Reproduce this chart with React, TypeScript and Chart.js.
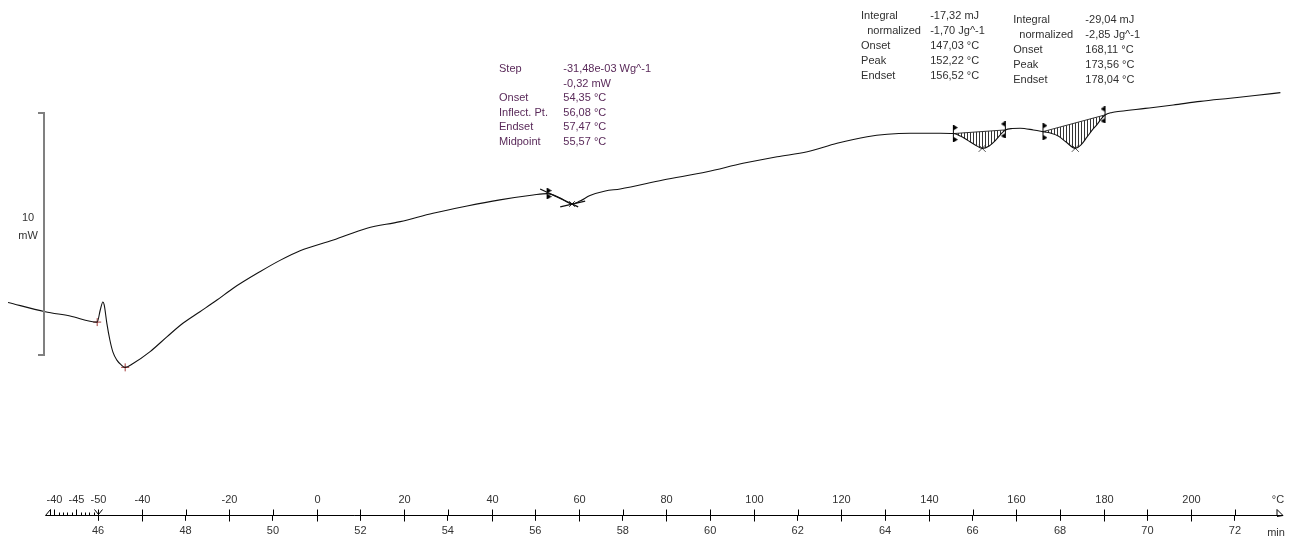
import React, { useEffect, useRef } from 'react';
import { Chart, registerables } from 'chart.js';

Chart.register(...registerables);

// ---- DSC curve (time in min, heat flow in mW) ----
const timeMin = [43.94, 44.79, 45.36, 45.98, 46.05, 46.11, 46.14, 46.20, 46.27, 46.34, 46.43, 46.53, 46.62, 46.80, 47.19, 47.58, 47.94, 48.33, 48.72, 49.09, 49.71, 50.16, 50.62, 51.38, 52.15, 52.91, 53.66, 54.44, 55.19, 55.95, 56.27, 56.57, 56.84, 57.02, 57.25, 57.60, 57.94, 58.92, 59.93, 60.75, 61.53, 62.22, 62.90, 63.59, 64.05, 64.57, 65.26, 65.56, 65.72, 65.88, 66.06, 66.22, 66.38, 66.52, 66.63, 66.75, 66.91, 67.09, 67.39, 67.61, 67.78, 67.96, 68.14, 68.35, 68.48, 68.62, 68.74, 68.85, 68.94, 69.03, 69.19, 69.38, 69.95, 70.59, 71.21, 71.89, 72.46, 73.04];
const heatFlowMW = [2.17, 1.79, 1.61, 1.36, 1.86, 2.19, 2.07, 1.32, 0.62, 0.12, -0.21, -0.41, -0.51, -0.35, 0.14, 0.76, 1.31, 1.79, 2.27, 2.76, 3.45, 3.91, 4.31, 4.75, 5.24, 5.51, 5.86, 6.16, 6.41, 6.61, 6.67, 6.49, 6.24, 6.36, 6.59, 6.78, 6.86, 7.23, 7.57, 7.92, 8.19, 8.40, 8.75, 9.02, 9.12, 9.16, 9.16, 9.15, 9.05, 8.88, 8.68, 8.54, 8.64, 8.86, 9.09, 9.30, 9.36, 9.37, 9.30, 9.23, 9.17, 9.05, 8.80, 8.54, 8.68, 9.01, 9.30, 9.53, 9.75, 9.92, 10.02, 10.07, 10.19, 10.33, 10.48, 10.61, 10.72, 10.84];

// integration limits (min) and baseline values (mW)
const peakStartTimes = [65.56, 67.61];
const peakStartValues = [9.15, 9.23];
const peakEndTimes = [66.75, 69.03];
const peakEndValues = [9.30, 9.92];
const peakTopTimes = [66.22, 68.35];
const peakTopValues = [8.54, 8.54];

// step evaluation
const stepOnsetTime = [56.27];
const stepOnsetValue = [6.67];
const stepTangentTimes = [56.11, 56.98];
const stepTangentValues = [6.86, 6.12];
const stepBaseTimes = [56.57, 57.14];
const stepBaseValues = [6.12, 6.36];
const stepCrossTime = [56.84];
const stepCrossValue = [6.24];

// red limit marks
const limitTimes = [45.98, 46.62];
const limitValues = [1.36, -0.51];

// axes
const timeTicks = [46, 48, 50, 52, 54, 56, 58, 60, 62, 64, 66, 68, 70, 72];
const tempTickTimes = [45, 45.5, 46, 47, 49, 51, 53, 55, 57, 59, 61, 63, 65, 67, 69, 71];
const tempTickLabels = ['-40', '-45', '-50', '-40', '-20', '0', '20', '40', '60', '80', '100', '120', '140', '160', '180', '200'];
const scaleBarMW = [0, 10];

// result boxes
const stepLabels = ['Step', '', 'Onset', 'Inflect. Pt.', 'Endset', 'Midpoint'];
const stepValues = ['-31,48e-03 Wg^-1', '-0,32 mW', '54,35 °C', '56,08 °C', '57,47 °C', '55,57 °C'];
const peak1Labels = ['Integral', '  normalized', 'Onset', 'Peak', 'Endset'];
const peak1Values = ['-17,32 mJ', '-1,70 Jg^-1', '147,03 °C', '152,22 °C', '156,52 °C'];
const peak2Labels = ['Integral', '  normalized', 'Onset', 'Peak', 'Endset'];
const peak2Values = ['-29,04 mJ', '-2,85 Jg^-1', '168,11 °C', '173,56 °C', '178,04 °C'];

const FONT = '11px "Liberation Sans", Arial, sans-serif';

const pts = (xs: number[], ys: number[]) => xs.map((x, i) => ({ x, y: ys[i] }));
const curvePts = pts(timeMin, heatFlowMW);
const segment = (a: number, b: number) => curvePts.filter((p) => p.x >= a - 1e-9 && p.x <= b + 1e-9);

function makeBracket(dir: number, h: number) {
  const c = document.createElement('canvas');
  c.width = 9;
  c.height = h;
  const g = c.getContext('2d')!;
  g.fillStyle = '#000';
  g.fillRect(4, 0, 1, h);
  const tri = (y0: number) => {
    g.beginPath();
    if (dir > 0) {
      g.moveTo(5, y0);
      g.lineTo(9, y0 + 2.5);
      g.lineTo(5, y0 + 5);
    } else {
      g.moveTo(4, y0);
      g.lineTo(0, y0 + 2.5);
      g.lineTo(4, y0 + 5);
    }
    g.closePath();
    g.fill();
  };
  tri(0);
  tri(h - 5);
  return c;
}

const overlay = {
  id: 'dscOverlay',
  afterDraw(chart: any) {
    const { ctx, chartArea } = chart;
    const xs = chart.scales.x;
    const ys = chart.scales.y;
    const axisY = Math.round(chartArea.bottom) + 0.5;
    ctx.save();
    ctx.strokeStyle = '#000';
    ctx.lineWidth = 1;
    // axis line
    const xStart = Math.round(xs.getPixelForValue(44.79)) + 0.5;
    const xEnd = chartArea.right;
    ctx.beginPath();
    ctx.moveTo(xStart, axisY);
    ctx.lineTo(xEnd, axisY);
    ctx.stroke();
    // left end mark
    ctx.beginPath();
    ctx.moveTo(xStart + 5, axisY - 6);
    ctx.lineTo(xStart, axisY);
    ctx.moveTo(xStart + 5, axisY - 6);
    ctx.lineTo(xStart + 5, axisY);
    ctx.stroke();
    // right arrow
    ctx.beginPath();
    ctx.moveTo(xEnd - 6, axisY - 6);
    ctx.lineTo(xEnd, axisY);
    ctx.lineTo(xEnd - 6, axisY + 1);
    ctx.moveTo(xEnd - 6, axisY - 6);
    ctx.lineTo(xEnd - 6, axisY);
    ctx.stroke();
    // upper halves of time ticks
    xs.ticks.forEach((t: any) => {
      const px = Math.round(xs.getPixelForValue(t.value)) + 0.5;
      ctx.beginPath();
      ctx.moveTo(px, axisY - 6);
      ctx.lineTo(px, axisY);
      ctx.stroke();
    });
    // minor ticks on cooling segment
    for (let k = 0; k <= 10; k++) {
      const px = Math.round(xs.getPixelForValue(45 + k * 0.1)) + 0.5;
      const h = k === 0 || k === 5 ? 6 : k === 10 ? 0 : 3;
      if (h === 0) continue;
      ctx.beginPath();
      ctx.moveTo(px, axisY - h);
      ctx.lineTo(px, axisY);
      ctx.stroke();
    }
    // segment change chevron at 46
    const pc = Math.round(xs.getPixelForValue(46)) + 0.5;
    ctx.beginPath();
    ctx.moveTo(pc - 4, axisY - 6);
    ctx.lineTo(pc, axisY - 1);
    ctx.lineTo(pc + 4, axisY - 6);
    ctx.stroke();
    // temperature ticks + labels
    ctx.font = FONT;
    ctx.fillStyle = '#333';
    ctx.textAlign = 'center';
    ctx.textBaseline = 'middle';
    tempTickTimes.forEach((t, i) => {
      const px = Math.round(xs.getPixelForValue(t)) + 0.5;
      if (t >= 47) {
        ctx.beginPath();
        ctx.moveTo(px, axisY - 6);
        ctx.lineTo(px, axisY + 6);
        ctx.stroke();
      }
      ctx.fillText(tempTickLabels[i], px, axisY - 16);
    });
    ctx.fillText('°C', xEnd - 5, axisY - 16);
    ctx.fillText('min', xEnd - 7, axisY + 17);

    // scale bar
    ctx.strokeStyle = '#808080';
    ctx.lineWidth = 2;
    const bx = Math.round(xs.getPixelForValue(44.77));
    const by0 = ys.getPixelForValue(scaleBarMW[0]);
    const by1 = ys.getPixelForValue(scaleBarMW[1]);
    ctx.beginPath();
    ctx.moveTo(bx - 6, by1);
    ctx.lineTo(bx, by1);
    ctx.lineTo(bx, by0);
    ctx.lineTo(bx - 6, by0);
    ctx.stroke();
    ctx.fillStyle = '#333';
    const bm = (by0 + by1) / 2;
    ctx.fillText(String(scaleBarMW[1] - scaleBarMW[0]), bx - 16, bm - 16);
    ctx.fillText('mW', bx - 16, bm + 2);

    // result boxes
    ctx.textAlign = 'left';
    const block = (lt: number, vt: number, topV: number, gap: number, labels: string[], values: string[], color: string) => {
      const lx = xs.getPixelForValue(lt);
      const vx = xs.getPixelForValue(vt);
      const y0 = ys.getPixelForValue(topV);
      ctx.fillStyle = color;
      labels.forEach((l, i) => {
        ctx.fillText(l, lx, y0 + i * gap);
        ctx.fillText(values[i], vx, y0 + i * gap);
      });
    };
    block(55.17, 56.64, 11.82, 14.6, stepLabels, stepValues, '#5a2a5a');
    block(63.45, 65.03, 14.01, 15, peak1Labels, peak1Values, '#303030');
    block(66.93, 68.58, 13.84, 15, peak2Labels, peak2Values, '#303030');
    ctx.restore();
  },
};

export default function App() {
  const ref = useRef<HTMLCanvasElement>(null);
  useEffect(() => {
    const canvas = ref.current!;
    const ctx = canvas.getContext('2d')!;
    const pc = document.createElement('canvas');
    pc.width = 3;
    pc.height = 3;
    const pg = pc.getContext('2d')!;
    pg.fillStyle = '#333';
    pg.fillRect(1, 0, 1, 3);
    const hatch = ctx.createPattern(pc, 'repeat');
    const right = makeBracket(1, 17);
    const left = makeBracket(-1, 17);
    const small = makeBracket(1, 11);

    const lineBase = { pointRadius: 0, borderWidth: 1, fill: false, cubicInterpolationMode: 'monotone' as const };
    const marks = (data: any[], style: any, color: string, radius: number) => ({
      data,
      showLine: false,
      pointStyle: style,
      pointRadius: radius,
      pointBorderColor: color,
      pointBackgroundColor: color,
      pointBorderWidth: 1,
      borderColor: color,
    });

    const chart = new Chart(ctx, {
      type: 'line',
      data: {
        datasets: [
          { ...lineBase, data: curvePts, borderColor: '#111', borderWidth: 1.1 },
          { ...lineBase, data: segment(peakStartTimes[0], peakEndTimes[0]), borderWidth: 0, borderColor: 'rgba(0,0,0,0)', backgroundColor: hatch as any, fill: 3 },
          { ...lineBase, data: segment(peakStartTimes[1], peakEndTimes[1]), borderWidth: 0, borderColor: 'rgba(0,0,0,0)', backgroundColor: hatch as any, fill: 4 },
          { ...lineBase, data: [{ x: peakStartTimes[0], y: peakStartValues[0] }, { x: peakEndTimes[0], y: peakEndValues[0] }], borderColor: '#333', cubicInterpolationMode: 'default' },
          { ...lineBase, data: [{ x: peakStartTimes[1], y: peakStartValues[1] }, { x: peakEndTimes[1], y: peakEndValues[1] }], borderColor: '#333', cubicInterpolationMode: 'default' },
          { ...lineBase, data: pts(stepTangentTimes, stepTangentValues), borderColor: '#111', borderWidth: 1.3, cubicInterpolationMode: 'default' },
          { ...lineBase, data: pts(stepBaseTimes, stepBaseValues), borderColor: '#111', borderWidth: 1.3, cubicInterpolationMode: 'default' },
          marks(pts(limitTimes, limitValues), 'cross', '#a33a3a', 4),
          marks(pts(peakTopTimes, peakTopValues), 'crossRot', '#555', 5),
          marks(pts(peakStartTimes, peakStartValues), right, '#000', 8),
          marks(pts(peakEndTimes, peakEndValues), left, '#000', 8),
          marks(pts(stepOnsetTime, stepOnsetValue), small, '#000', 6),
          marks(pts(stepCrossTime, stepCrossValue), 'crossRot', '#333', 4),
        ] as any,
      },
      options: {
        responsive: false,
        animation: false,
        devicePixelRatio: 1,
        layout: { autoPadding: false, padding: { left: 8, right: 7, top: 0, bottom: 1 } },
        plugins: { legend: { display: false }, tooltip: { enabled: false } },
        scales: {
          x: {
            type: 'linear',
            min: 43.94,
            max: 73.1,
            afterBuildTicks: (s: any) => {
              s.ticks = timeTicks.map((v) => ({ value: v }));
            },
            border: { display: false },
            grid: { display: true, drawOnChartArea: false, drawTicks: true, tickLength: 6, color: '#000', lineWidth: 1 },
            ticks: { padding: 4, color: '#333', font: { family: '"Liberation Sans", Arial, sans-serif', size: 11 }, autoSkip: false, maxRotation: 0, callback: (v: any) => String(v) },
          },
          y: {
            type: 'linear',
            display: false,
            min: -6.603,
            max: 14.669,
          },
        },
      },
      plugins: [overlay],
    });
    return () => chart.destroy();
  }, []);
  return (
    <div style={{ position: 'absolute', left: 0, top: 0, width: 1290, height: 543, background: '#fff' }}>
      <canvas ref={ref} width={1290} height={543} style={{ display: 'block' }} />
    </div>
  );
}
